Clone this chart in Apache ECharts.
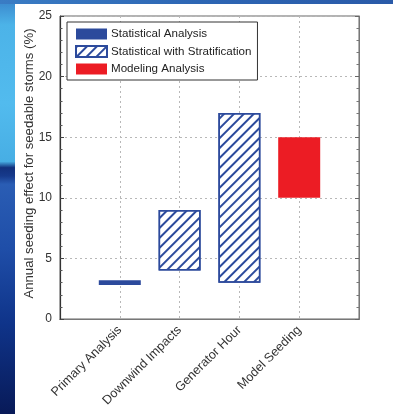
<!DOCTYPE html>
<html>
<head>
<meta charset="utf-8">
<script src="https://cdn.jsdelivr.net/npm/echarts@6/dist/echarts.min.js"></script>
<style>
  html, body { margin: 0; padding: 0; background: #ffffff; }
  #chart { width: 393px; height: 414px; }
</style>
</head>
<body>
<div id="chart"></div>
<script>
// Seeding-effect ranges (%) for each analysis approach
const categories = ['Primary Analysis', 'Downwind Impacts', 'Generator Hour', 'Model Seeding'];
const lowValues = [2.8, 4, 3, 10];
const highValues = [3.2, 9, 17, 15];
const methodOfCategory = [
  'Statistical Analysis',
  'Statistical with Stratification',
  'Statistical with Stratification',
  'Modeling Analysis'
];
const methods = ['Statistical Analysis', 'Statistical with Stratification', 'Modeling Analysis'];
const yTicks = [0, 5, 10, 15, 20, 25];

const FONT = '"Liberation Sans", Arial, Helvetica, sans-serif';
const BLUE = '#2c4a9c';
const RED = '#ec1c24';

// pad the category axis so the four groups sit at 1..4 on a 0..5 frame
const axisCats = [''].concat(categories, ['']);
const pad = arr => ['-'].concat(arr, ['-']);

const methodStyles = {
  'Statistical Analysis': { color: BLUE },
  'Statistical with Stratification': {
    color: '#ffffff',
    borderColor: BLUE,
    borderWidth: 1.5,
    decal: {
      symbol: 'rect',
      symbolSize: 1,
      dashArrayX: [1, 0],
      dashArrayY: [1.7, 4.1],
      rotation: -Math.PI / 4,
      color: BLUE
    }
  },
  'Modeling Analysis': { color: RED }
};

const series = [{
  name: 'base',
  type: 'bar',
  stack: 'range',
  barWidth: 42,
  silent: true,
  itemStyle: { color: 'transparent' },
  data: pad(lowValues)
}];

methods.forEach(m => {
  series.push({
    name: m,
    type: 'bar',
    stack: 'range',
    barWidth: 42,
    itemStyle: methodStyles[m],
    data: pad(categories.map((c, i) =>
      methodOfCategory[i] === m ? +(highValues[i] - lowValues[i]).toFixed(3) : '-'))
  });
});

const chart = echarts.init(document.getElementById('chart'), null, { renderer: 'canvas' });

const dotted = { show: true, lineStyle: { color: '#b8b8b8', type: [2, 3], width: 1 } };

chart.setOption({
  animation: false,
  aria: { enabled: true, decal: { show: false } },
  textStyle: { fontFamily: FONT },
  graphic: [
    {
      type: 'rect', z: -10, silent: true,
      shape: { x: 0, y: 0, width: 15, height: 414 },
      style: {
        fill: new echarts.graphic.LinearGradient(0, 0, 0, 1, [
          { offset: 0, color: '#3a86cc' },
          { offset: 0.06, color: '#4cb3e8' },
          { offset: 0.25, color: '#52bbee' },
          { offset: 0.39, color: '#47aee4' },
          { offset: 0.405, color: '#12307c' },
          { offset: 0.425, color: '#163a8c' },
          { offset: 0.445, color: '#2a5db4' },
          { offset: 0.6, color: '#1f4ea8' },
          { offset: 0.78, color: '#0f348a' },
          { offset: 1, color: '#081a58' }
        ])
      }
    },
    {
      type: 'rect', z: -10, silent: true,
      shape: { x: 0, y: 0, width: 393, height: 4 },
      style: {
        fill: new echarts.graphic.LinearGradient(0, 0, 1, 0, [
          { offset: 0, color: '#3a7cc4' },
          { offset: 0.5, color: '#2d66b4' },
          { offset: 1, color: '#2a5aa8' }
        ])
      }
    }
  ],
  grid: { left: 60, right: 34, top: 16, bottom: 95, show: true, borderColor: '#666', borderWidth: 1, backgroundColor: 'transparent' },
  legend: {
    orient: 'vertical',
    left: 67,
    top: 22,
    data: methods.map(m => ({ name: m, icon: 'rect' })),
    itemWidth: 31,
    itemHeight: 11,
    itemGap: 5,
    padding: [6, 6, 5, 8],
    borderColor: '#333',
    borderWidth: 1,
    backgroundColor: '#ffffff',
    selectedMode: false,
    textStyle: { fontFamily: FONT, fontSize: 11.6, color: '#222', padding: [0, 0, 0, -1] }
  },
  xAxis: [
    {
      type: 'category',
      data: axisCats,
      boundaryGap: false,
      axisLine: { lineStyle: { color: '#333', width: 1.2 } },
      axisTick: { show: false },
      splitLine: dotted,
      axisLabel: {
        interval: 0,
        rotate: 45,
        margin: 9,
        fontSize: 12.6,
        color: '#333',
        fontFamily: FONT
      }
    },
    {
      type: 'category',
      data: axisCats,
      boundaryGap: false,
      position: 'top',
      axisLine: { lineStyle: { color: '#777' } },
      axisTick: { show: false },
      axisLabel: { show: false },
      splitLine: { show: false }
    }
  ],
  yAxis: [
    {
      type: 'value',
      min: yTicks[0],
      max: yTicks[yTicks.length - 1],
      interval: 5,
      position: 'left',
      name: 'Annual seeding effect for seedable storms (%)',
      nameLocation: 'middle',
      nameGap: 24,
      nameMoveOverlap: false,
      nameTextStyle: { fontSize: 13.2, color: '#333', fontFamily: FONT, padding: [0, 0, 0, 8] },
      axisLine: { show: true, lineStyle: { color: '#333', width: 1.2 } },
      axisTick: { show: true, inside: true, length: 4, lineStyle: { color: '#444' } },
      minorTick: { show: true, splitNumber: 5, length: 2.5, lineStyle: { color: '#555' } },
      splitLine: dotted,
      axisLabel: { fontSize: 12, color: '#333', margin: 8, fontFamily: FONT }
    },
    {
      type: 'value',
      min: yTicks[0],
      max: yTicks[yTicks.length - 1],
      interval: 5,
      position: 'right',
      axisLine: { show: true, lineStyle: { color: '#777' } },
      axisTick: { show: true, inside: true, length: 4, lineStyle: { color: '#666' } },
      minorTick: { show: true, splitNumber: 5, length: 2.5, lineStyle: { color: '#777' } },
      splitLine: { show: false },
      axisLabel: { show: false }
    }
  ],
  series: series
});
</script>
</body>
</html>
